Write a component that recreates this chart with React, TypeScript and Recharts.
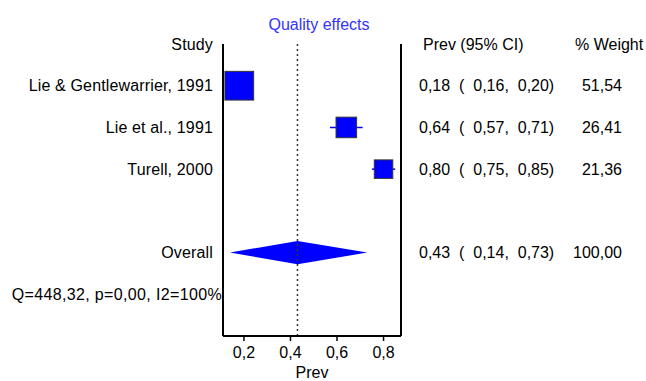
import {
  ComposedChart,
  Scatter,
  ErrorBar,
  Area,
  XAxis,
  YAxis,
  ReferenceLine,
} from "recharts";

const studies = ["Lie & Gentlewarrier, 1991", "Lie et al., 1991", "Turell, 2000"];
const prev = [0.18, 0.64, 0.8];
const ciLow = [0.16, 0.57, 0.75];
const ciHigh = [0.2, 0.71, 0.85];
const weights = [51.54, 26.41, 21.36];

const overallPrev = 0.43;
const overallLow = 0.14;
const overallHigh = 0.73;
const overallWeight = 100;

const heterogeneity = "Q=448,32, p=0,00, I2=100%";
const xTicks = [0.2, 0.4, 0.6, 0.8];

// row layout (top to bottom)
const headerRow = 0;
const studyRows = [1, 2, 3];
const overallRow = 5;
const statsRow = 6;

const DIAMOND_HALF = 0.28;
const BLUE = "#0000ff";
const FONT = "'Liberation Sans', Arial, sans-serif";

const fmt = (v: number) => v.toFixed(2).replace(".", ",");
const ciText = (p: number, lo: number, hi: number) =>
  `${fmt(p)}  (  ${fmt(lo)},  ${fmt(hi)})`;

const studyPoints = studies.map((name, i) => ({
  name,
  x: prev[i],
  y: studyRows[i],
  err: [prev[i] - ciLow[i], ciHigh[i] - prev[i]],
  weight: weights[i],
}));

const diamond = [
  { x: overallLow, band: [overallRow, overallRow] },
  { x: overallPrev, band: [overallRow - DIAMOND_HALF, overallRow + DIAMOND_HALF] },
  { x: overallHigh, band: [overallRow, overallRow] },
];

const leftLabels: Record<number, string> = { [headerRow]: "Study", [overallRow]: "Overall", [statsRow]: heterogeneity };
studyRows.forEach((r, i) => (leftLabels[r] = studies[i]));

const rightCols: Record<number, [string, string]> = {
  [overallRow]: [ciText(overallPrev, overallLow, overallHigh), fmt(overallWeight)],
};
studyRows.forEach((r, i) => (rightCols[r] = [ciText(prev[i], ciLow[i], ciHigh[i]), fmt(weights[i])]));

const LeftTick = ({ x, y, payload }: any) => {
  const v = payload.value;
  const isStats = v === statsRow;
  return (
    <text
      x={isStats ? x + 9 : x}
      y={y}
      dy="0.355em"
      textAnchor="end"
      fontSize={16}
      fill="#000"
      fontFamily={FONT}
      letterSpacing={isStats ? 0.35 : 0.15}
    >
      {leftLabels[v]}
    </text>
  );
};

const RightTick = ({ x, y, payload }: any) => {
  const v = payload.value;
  if (v === headerRow) {
    return (
      <g fontSize={16} fill="#000" fontFamily={FONT}>
        <text x={x + 22} y={y} dy="0.355em">Prev (95% CI)</text>
        <text x={x + 174} y={y} dy="0.355em">% Weight</text>
      </g>
    );
  }
  const cols = rightCols[v];
  if (!cols) return null;
  return (
    <g fontSize={16} fill="#000" fontFamily={FONT}>
      <text x={x + 18} y={y} dy="0.355em" style={{ whiteSpace: "pre" }}>{cols[0]}</text>
      <text x={x + 221} y={y} dy="0.355em" textAnchor="end">{cols[1]}</text>
    </g>
  );
};

const Box = ({ cx, cy, payload }: any) => {
  const side = 4 * Math.sqrt(payload.weight);
  return <rect x={cx - side / 2} y={cy - side / 2} width={side} height={side} fill={BLUE} stroke="#333" strokeWidth={1} />;
};

export default function App() {
  return (
    <div style={{ position: "absolute", left: 0, top: 0, width: 646, height: 381, background: "#fff", fontFamily: FONT }}>
      <div style={{ position: "absolute", left: 219, top: 16, width: 200, textAlign: "center", fontSize: 16, color: "#3333ff" }}>
        Quality effects
      </div>
      <ComposedChart width={646} height={381} margin={{ top: 44, right: 0, bottom: 0, left: 0 }}>
        <XAxis
          type="number"
          dataKey="x"
          domain={[0.11, 0.875]}
          allowDataOverflow
          ticks={xTicks}
          tickFormatter={(v: number) => v.toFixed(1).replace(".", ",")}
          height={45}
          tickSize={5}
          tickMargin={6}
          tick={{ fontSize: 16, fill: "#000", fontFamily: FONT }}
          axisLine={{ stroke: "#000", strokeWidth: 2 }}
          tickLine={{ stroke: "#000", strokeWidth: 1.5 }}
          label={{ value: "Prev", position: "insideBottom", offset: 3, fontSize: 16, fill: "#000", fontFamily: FONT }}
        />
        <YAxis
          yAxisId="left"
          type="number"
          dataKey="y"
          reversed
          domain={[0, 7]}
          allowDataOverflow
          ticks={[headerRow, ...studyRows, overallRow, statsRow]}
          width={223}
          tickSize={0}
          tickMargin={10}
          tickLine={false}
          tick={<LeftTick />}
          axisLine={{ stroke: "#000", strokeWidth: 2 }}
          interval={0}
        />
        <YAxis
          yAxisId="right"
          orientation="right"
          type="number"
          reversed
          domain={[0, 7]}
          allowDataOverflow
          ticks={[headerRow, ...studyRows, overallRow]}
          width={245}
          tickSize={0}
          tickMargin={0}
          tickLine={false}
          tick={<RightTick />}
          axisLine={{ stroke: "#000", strokeWidth: 2 }}
          interval={0}
        />
        <ReferenceLine yAxisId="left" x={overallPrev} stroke="#333" strokeDasharray="2 3" strokeWidth={1.5} />
        <Area
          yAxisId="left"
          data={diamond}
          dataKey="band"
          type="linear"
          stroke="none"
          fill={BLUE}
          fillOpacity={1}
          isAnimationActive={false}
        />
        <Scatter yAxisId="left" data={studyPoints} dataKey="y" shape={<Box />} isAnimationActive={false}>
          <ErrorBar dataKey="err" direction="x" width={0} stroke={BLUE} strokeWidth={1.5} />
        </Scatter>
      </ComposedChart>
    </div>
  );
}
